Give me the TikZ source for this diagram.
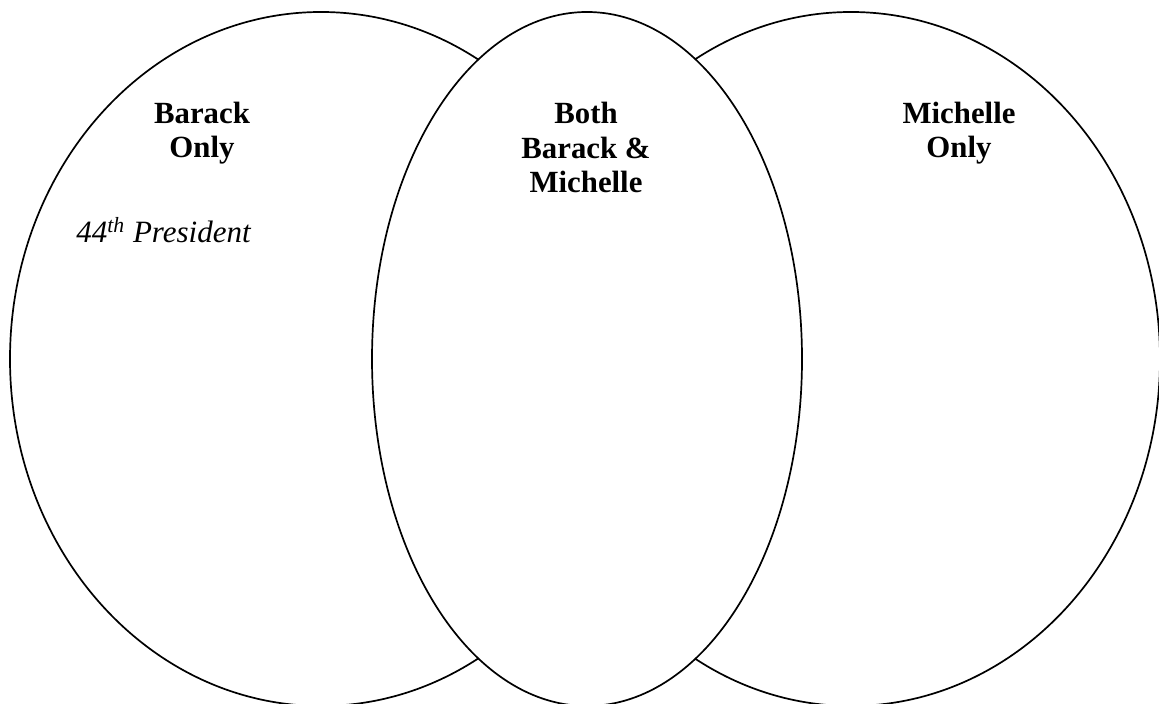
\documentclass[tikz,border=0pt]{standalone}
\usepackage{fontspec}
\setmainfont{Liberation Serif}
\begin{document}
\begin{tikzpicture}[x=0.5pt,y=-0.5pt,
  venn/.style={draw=black,fill=white,line width=0.85pt},
  head/.style={font=\fontsize{15.4}{17.25}\selectfont\bfseries,align=center,inner sep=0pt,anchor=base},
  item/.style={font=\fontsize{15.5}{18}\selectfont\itshape,inner sep=0pt,anchor=base west}]
\useasboundingbox (0,0) rectangle (1159,704);
\clip (0,0) rectangle (1159,704);
\fill[white] (0,0) rectangle (1159,704);
\draw[venn] (321,359) ellipse [x radius=155.5pt, y radius=173.5pt];
\draw[venn] (851,359) ellipse [x radius=154.5pt, y radius=173.5pt];
\draw[venn] (587,359) ellipse [x radius=107.5pt, y radius=173.5pt];
\node[head] (barack) at (202,158) {Barack\\Only};
\node[head] (both) at (586,193) {Both\\Barack \&\\Michelle};
\node[head] (michelle) at (959,158) {Michelle\\Only};
\node[item] (pres) at (76,243) {44\textsuperscript{th} President};
\end{tikzpicture}
\end{document}
